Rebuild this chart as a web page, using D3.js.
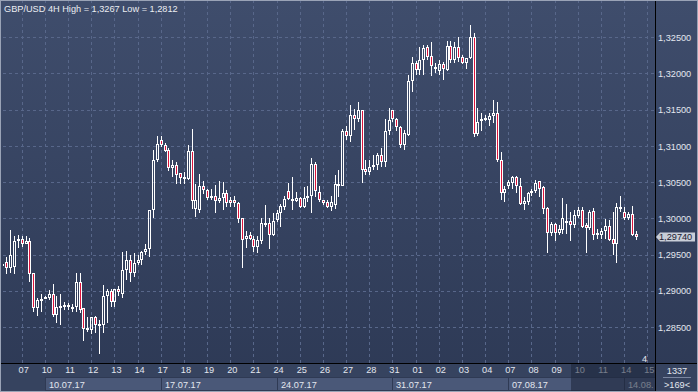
<!DOCTYPE html>
<html><head><meta charset="utf-8">
<script src="https://cdn.jsdelivr.net/npm/d3@7"></script>
<style>html,body{margin:0;padding:0;background:#2e3a55;overflow:hidden}svg{display:block}</style>
</head><body>
<svg id="c" width="698" height="392"></svg>
<script>
const titleText = "GBP/USD 4H High = 1,3267 Low = 1,2812";
const open = [1.2935,1.2939,1.2931,1.2933,1.2969,1.2971,1.2964,1.2969,1.2924,1.2876,1.2887,1.2889,1.2890,1.2895,1.2867,1.2877,1.2877,1.2880,1.2876,1.2877,1.2912,1.2876,1.2846,1.2846,1.2863,1.2852,1.2852,1.2893,1.2900,1.2884,1.2902,1.2896,1.2929,1.2942,1.2924,1.2938,1.2943,1.2953,1.2958,1.3011,1.3080,1.3108,1.3101,1.3095,1.3070,1.3074,1.3062,1.3054,1.3054,1.3093,1.3013,1.3011,1.3045,1.3039,1.3029,1.3031,1.3024,1.3028,1.3035,1.3025,1.3025,1.3021,1.3000,1.2971,1.2977,1.2972,1.2960,1.2969,1.2991,1.2994,1.2977,1.2998,1.3007,1.3016,1.3038,1.3024,1.3024,1.3028,1.3015,1.3028,1.3031,1.3075,1.3037,1.3025,1.3022,1.3016,1.3018,1.3046,1.3045,1.3121,1.3114,1.3143,1.3137,1.3149,1.3068,1.3064,1.3071,1.3073,1.3088,1.3078,1.3121,1.3150,1.3137,1.3126,1.3101,1.3115,1.3189,1.3215,1.3205,1.3219,1.3236,1.3224,1.3209,1.3203,1.3213,1.3205,1.3238,1.3219,1.3237,1.3223,1.3215,1.3221,1.3250,1.3117,1.3134,1.3136,1.3136,1.3141,1.3145,1.3081,1.3035,1.3044,1.3049,1.3057,1.3044,1.3020,1.3023,1.3035,1.3038,1.3051,1.3043,1.3014,1.2980,1.2992,1.2980,1.2984,1.2994,1.2996,1.2991,1.3003,1.3011,1.2991,1.2986,1.3010,1.2977,1.2977,1.2982,1.2989,1.2971,1.2965,1.3013,1.3009,1.3000,1.3006,1.2978];
const high = [1.2940,1.2946,1.2984,1.2975,1.2977,1.2975,1.2976,1.2973,1.2924,1.2890,1.2895,1.2893,1.2901,1.2909,1.2892,1.2896,1.2885,1.2883,1.2881,1.2925,1.2925,1.2876,1.2863,1.2864,1.2865,1.2860,1.2908,1.2902,1.2902,1.2903,1.2906,1.2954,1.2955,1.2949,1.2952,1.2950,1.2955,1.2965,1.3012,1.3094,1.3114,1.3113,1.3104,1.3097,1.3081,1.3078,1.3063,1.3064,1.3101,1.3123,1.3048,1.3061,1.3051,1.3041,1.3040,1.3046,1.3051,1.3050,1.3039,1.3029,1.3031,1.3022,1.3001,1.2982,1.2981,1.2975,1.2976,1.3001,1.3018,1.3000,1.3008,1.3011,1.3020,1.3031,1.3049,1.3057,1.3037,1.3030,1.3043,1.3044,1.3083,1.3078,1.3044,1.3025,1.3025,1.3031,1.3060,1.3067,1.3124,1.3127,1.3157,1.3151,1.3160,1.3150,1.3081,1.3080,1.3088,1.3090,1.3097,1.3137,1.3152,1.3150,1.3139,1.3127,1.3122,1.3198,1.3223,1.3217,1.3236,1.3239,1.3239,1.3244,1.3214,1.3219,1.3216,1.3245,1.3245,1.3244,1.3251,1.3225,1.3222,1.3267,1.3256,1.3153,1.3146,1.3143,1.3145,1.3163,1.3160,1.3092,1.3044,1.3053,1.3058,1.3058,1.3055,1.3030,1.3037,1.3040,1.3053,1.3052,1.3044,1.3016,1.2995,1.2994,1.2991,1.3028,1.3020,1.3009,1.3011,1.3016,1.3015,1.2993,1.3011,1.3014,1.2985,1.2986,1.2999,1.2998,1.3009,1.3021,1.3031,1.3015,1.3009,1.3017,1.2982];
const low = [1.2931,1.2923,1.2925,1.2923,1.2959,1.2961,1.2964,1.2912,1.2870,1.2865,1.2871,1.2888,1.2887,1.2863,1.2855,1.2853,1.2874,1.2874,1.2871,1.2871,1.2869,1.2831,1.2843,1.2840,1.2841,1.2812,1.2841,1.2855,1.2878,1.2878,1.2892,1.2890,1.2915,1.2912,1.2919,1.2936,1.2935,1.2949,1.2947,1.3000,1.3078,1.3099,1.3091,1.3066,1.3057,1.3047,1.3047,1.3048,1.3053,1.3013,1.3002,1.3007,1.3034,1.3025,1.3025,1.3008,1.3021,1.3011,1.3016,1.3016,1.3015,1.2993,1.2932,1.2959,1.2970,1.2954,1.2952,1.2965,1.2988,1.2958,1.2976,1.2995,1.2988,1.3012,1.3025,1.3011,1.3023,1.3014,1.3014,1.3023,1.3007,1.3030,1.3022,1.3018,1.3014,1.3010,1.3013,1.3030,1.3044,1.3108,1.3106,1.3122,1.3133,1.3049,1.3060,1.3060,1.3067,1.3067,1.3071,1.3071,1.3115,1.3133,1.3120,1.3097,1.3095,1.3114,1.3175,1.3198,1.3198,1.3198,1.3219,1.3196,1.3201,1.3198,1.3191,1.3203,1.3215,1.3214,1.3216,1.3213,1.3206,1.3220,1.3112,1.3113,1.3121,1.3134,1.3127,1.3131,1.3078,1.3025,1.3023,1.3041,1.3041,1.3035,1.3018,1.3011,1.3018,1.3031,1.3035,1.3030,1.3006,1.2952,1.2975,1.2968,1.2977,1.2978,1.2979,1.2969,1.2986,1.3000,1.2986,1.2952,1.2984,1.2970,1.2972,1.2972,1.2972,1.2968,1.2949,1.2938,1.3009,1.2998,1.2997,1.2975,1.2970];
const close = [1.2937,1.2931,1.2950,1.2969,1.2971,1.2964,1.2969,1.2923,1.2876,1.2887,1.2889,1.2891,1.2895,1.2867,1.2878,1.2879,1.2880,1.2877,1.2878,1.2912,1.2873,1.2847,1.2848,1.2863,1.2853,1.2854,1.2893,1.2900,1.2884,1.2902,1.2898,1.2929,1.2942,1.2924,1.2938,1.2943,1.2953,1.2958,1.3011,1.3081,1.3103,1.3101,1.3093,1.3070,1.3074,1.3060,1.3055,1.3057,1.3093,1.3024,1.3025,1.3045,1.3039,1.3028,1.3031,1.3024,1.3028,1.3035,1.3021,1.3021,1.3021,1.2999,1.2970,1.2976,1.2972,1.2960,1.2970,1.2993,1.2994,1.2977,1.2996,1.3007,1.3017,1.3026,1.3026,1.3027,1.3028,1.3015,1.3028,1.3031,1.3075,1.3038,1.3025,1.3021,1.3016,1.3022,1.3047,1.3048,1.3121,1.3114,1.3143,1.3137,1.3149,1.3067,1.3064,1.3071,1.3074,1.3088,1.3078,1.3121,1.3136,1.3137,1.3126,1.3101,1.3118,1.3190,1.3214,1.3205,1.3219,1.3235,1.3223,1.3210,1.3206,1.3213,1.3206,1.3238,1.3219,1.3237,1.3221,1.3215,1.3221,1.3250,1.3117,1.3133,1.3137,1.3138,1.3141,1.3145,1.3081,1.3035,1.3040,1.3050,1.3057,1.3044,1.3020,1.3024,1.3035,1.3038,1.3049,1.3040,1.3013,1.2980,1.2992,1.2980,1.2985,1.3000,1.2996,1.2991,1.3005,1.3011,1.2988,1.2986,1.3009,1.2977,1.2980,1.2983,1.2989,1.2970,1.2965,1.3015,1.3015,1.3001,1.3006,1.2977,1.2974];
const dayLabels = ["07","10","11","12","13","14","17","18","19","20","21","24","25","26","27","28","31","01","02","03","04","07","08","09","10","11","14","15"];
const dayStartIndex = dayLabels.map((d,k)=>5+6*k);
const weekLabels = ["10.07.17","17.07.17","24.07.17","31.07.17","07.08.17","14.08.17"];
const weekStartIndex = [11,41,71,101,131,161];
const priceTicks = [1.285,1.29,1.295,1.30,1.305,1.31,1.315,1.32,1.325];

const W=698,H=392, plotR=655, plotB=363, plotL=3;
const svg=d3.select("#c");
const FONT='"Liberation Sans", Arial, sans-serif';
const FS=9.2;
const x=d3.scaleLinear().domain([0,164]).range([2.39,635.76]);
const y=d3.scaleLinear().domain([1.28,1.33]).range([363.1,1.1]);

const defs=svg.append("defs");
const g1=defs.append("linearGradient").attr("id","bg").attr("x1",0).attr("y1",0).attr("x2",0).attr("y2",1);
g1.append("stop").attr("offset","0%").attr("stop-color","#3f4d6c");
g1.append("stop").attr("offset","100%").attr("stop-color","#2d3955");
defs.append("clipPath").attr("id","plotclip").append("rect").attr("x",plotL).attr("y",0).attr("width",plotR-plotL).attr("height",plotB);
defs.append("clipPath").attr("id","axclip").append("rect").attr("x",0).attr("y",plotB).attr("width",plotR).attr("height",H-plotB);

svg.append("rect").attr("width",W).attr("height",H).attr("fill","url(#bg)");
svg.append("rect").attr("x",0).attr("y",plotB).attr("width",W).attr("height",H-plotB).attr("fill","#36435f");

const plot=svg.append("g").attr("clip-path","url(#plotclip)");
plot.selectAll("line.hg").data(priceTicks).join("line")
  .attr("x1",plotL).attr("x2",plotR).attr("y1",d=>Math.round(y(d))+0.5).attr("y2",d=>Math.round(y(d))+0.5)
  .attr("stroke","#58678a").attr("stroke-dasharray","3,3");
plot.selectAll("line.vg").data(dayStartIndex).join("line")
  .attr("x1",d=>Math.round(x(d))+0.5).attr("x2",d=>Math.round(x(d))+0.5).attr("y1",0).attr("y2",plotB)
  .attr("stroke","#58678a").attr("stroke-dasharray","3,3");

const idx=d3.range(open.length);
const cg=plot.append("g");
idx.forEach(i=>{
  const cx=Math.round(x(i));
  const o=open[i],c=close[i];
  let top=Math.round(y(Math.max(o,c))), bot=Math.round(y(Math.min(o,c)));
  if(bot-top<2) bot=top+2;
  const hi=Math.round(y(high[i])), lo=Math.round(y(low[i]));
  if(hi<top) cg.append("line").attr("x1",cx+0.5).attr("x2",cx+0.5).attr("y1",hi).attr("y2",top).attr("stroke","#fff");
  if(lo>bot) cg.append("line").attr("x1",cx+0.5).attr("x2",cx+0.5).attr("y1",bot).attr("y2",lo).attr("stroke","#fff");
  cg.append("rect").attr("x",cx-0.5).attr("y",top+0.5).attr("width",2).attr("height",bot-top-1)
    .attr("fill",c<o?"#dc143c":"none").attr("stroke","#fff").attr("stroke-width",1);
});

svg.append("line").attr("x1",plotR+0.5).attr("x2",plotR+0.5).attr("y1",0).attr("y2",H).attr("stroke","#000");
svg.append("line").attr("x1",0).attr("x2",W).attr("y1",plotB+0.5).attr("y2",plotB+0.5).attr("stroke","#000");

svg.append("text").attr("x",4).attr("y",12).attr("fill","#ebedf2").attr("font-family",FONT).attr("font-size",FS).text(titleText);

const yAxis=d3.axisRight(y).tickValues(priceTicks).tickSize(0).tickPadding(0).tickFormat(d=>d3.format(".5f")(d).replace(".",","));
const ya=svg.append("g").attr("transform",`translate(${plotR+3},0)`).call(yAxis);
ya.select(".domain").remove();
ya.selectAll("text").attr("fill","#e3e7ef").attr("font-family",FONT).attr("font-size",FS).attr("dy","0.35em");

const last=close[close.length-1], ly=y(last);
svg.append("path").attr("d",`M${plotR+1},${ly} L${plotR+5},${ly-4.5} L${W-3},${ly-4.5} L${W-3},${ly+4.5} L${plotR+5},${ly+4.5} Z`).attr("fill","#c9ced8");
svg.append("text").attr("x",plotR+4).attr("y",ly).attr("dy","0.35em").attr("fill","#1a2030").attr("font-family",FONT).attr("font-size",FS).text(d3.format(".5f")(last).replace(".",","));

const ax=svg.append("g").attr("clip-path","url(#axclip)");
weekStartIndex.forEach((s,k)=>{
  const x0=Math.round(x(s)), x1=Math.round(x(s+30));
  ax.append("rect").attr("x",x0+0.5).attr("y",377.5).attr("width",x1-x0).attr("height",13).attr("fill","#4a5878").attr("stroke","#2f3a54");
  const t=ax.append("text").attr("x",x0+4).attr("y",388).attr("fill","#e3e7ef").attr("font-family",FONT).attr("font-size",FS).text(weekLabels[k]);
  let s2=weekLabels[k];
  while(s2.length>1 && x0+4+t.node().getComputedTextLength()>plotR+1){ s2=s2.slice(0,-1); t.text(s2); }
});
const xAxis=d3.axisBottom(x).tickValues(dayStartIndex).tickSize(0).tickPadding(0).tickFormat((d,k)=>dayLabels[k]);
const xa=ax.append("g").attr("transform",`translate(0,${plotB+3})`).call(xAxis);
xa.select(".domain").remove();
xa.selectAll("text").attr("fill","#e3e7ef").attr("font-family",FONT).attr("font-size",FS).attr("dy","0.8em").attr("dx",1.5);
ax.append("rect").attr("x",571).attr("y",plotB+1).attr("width",plotR-571).attr("height",H-plotB-1).attr("fill","#1c2538").attr("opacity",0.55);

svg.append("text").attr("x",642).attr("y",362).attr("fill","#e3e7ef").attr("font-family",FONT).attr("font-size",FS).text("4");
svg.append("text").attr("x",677).attr("y",374).attr("text-anchor","middle").attr("fill","#e3e7ef").attr("font-family",FONT).attr("font-size",FS).text("1337");
svg.append("line").attr("x1",663).attr("x2",691).attr("y1",377.5).attr("y2",377.5).attr("stroke","#7a86a0");
svg.append("text").attr("x",677).attr("y",388).attr("text-anchor","middle").attr("fill","#e3e7ef").attr("font-family",FONT).attr("font-size",FS).text(">169<");

svg.append("rect").attr("x",0.5).attr("y",0.5).attr("width",W-1).attr("height",H-1).attr("fill","none").attr("stroke","#9aa3b6");
</script>
</body></html>
